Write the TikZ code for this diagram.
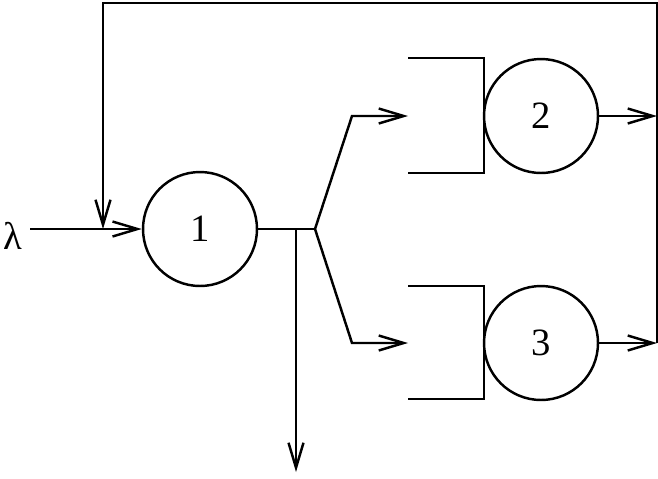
\documentclass[tikz,border=0pt]{standalone}
\usepackage{fontspec}
\setmainfont{Liberation Serif}
\usetikzlibrary{arrows.meta}

\begin{document}
\begin{tikzpicture}[x=0.02cm,y=-0.02cm,line width=1.4pt,line join=miter,
    >={Straight Barb[length=0.5cm,width=0.3cm,line width=1.4pt]},
    station/.style={circle,draw,line width=1.4pt,minimum size=2.28cm,inner sep=0pt,font=\fontsize{22}{26}\selectfont}]
  \useasboundingbox (0,0) rectangle (658,478);
  % stations
  \node[station] (S1) at (200,229) {1};
  \node[station] (S2) at (541,116) {2};
  \node[station] (S3) at (541,343) {3};
  \node[font=\fontsize{22}{26}\selectfont,inner sep=0pt] (LAM) at (13,236) {λ};
  % points
  \coordinate (IN) at (30,229);
  \coordinate (FB) at (103,229);
  \coordinate (TL) at (103,3);
  \coordinate (TR) at (657,3);
  \coordinate (R2) at (657,116);
  \coordinate (R3) at (657,343);
  \coordinate (SPLIT) at (296,229);
  \coordinate (OUT) at (296,472);
  \coordinate (FORK) at (315,229);
  \coordinate (K2) at (352,116);
  \coordinate (K3) at (352,343);
  \coordinate (Q2) at (408,116);
  \coordinate (Q3) at (408,343);
  % queues
  \draw (408,58) -- (484,58) -- (484,173) -- (408,173);
  \draw (408,286) -- (484,286) -- (484,399) -- (408,399);
  % arrivals and feedback
  \draw[->] (IN) -- (S1.west);
  \draw[->] (R3) -- (TR) -- (TL) -- (FB);
  % routing
  \draw (S1.east) -- (FORK);
  \draw[->] (SPLIT) -- (OUT);
  \draw[->] (FORK) -- (K2) -- (Q2);
  \draw[->] (FORK) -- (K3) -- (Q3);
  \draw[->] (S2.east) -- (R2);
  \draw[->] (S3.east) -- (R3);
\end{tikzpicture}
\end{document}
